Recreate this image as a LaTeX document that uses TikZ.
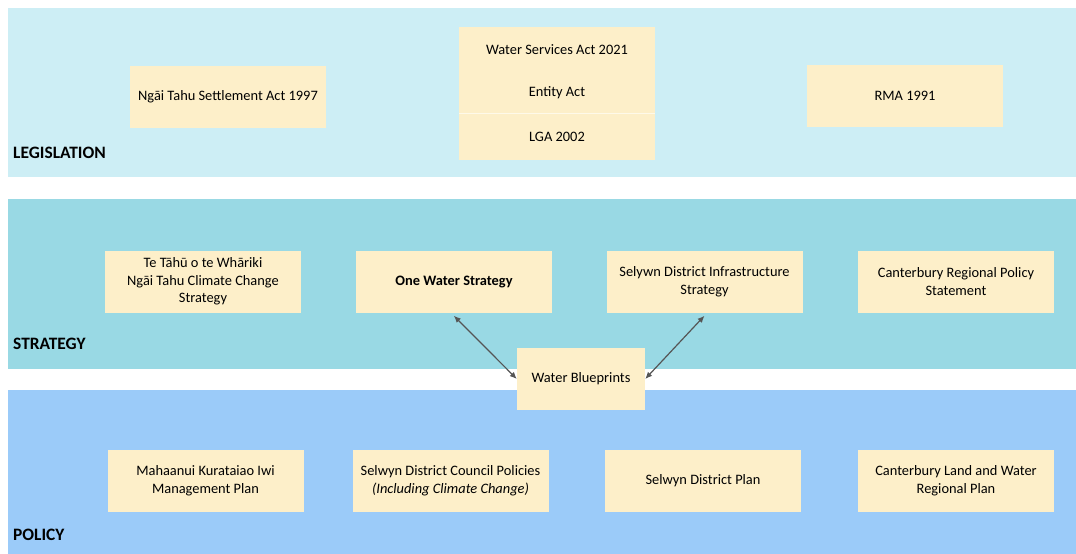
\documentclass[tikz,border=0pt]{standalone}
\usepackage{fontspec}
\setmainfont{Carlito}
\usetikzlibrary{arrows.meta, positioning}
\definecolor{legisband}{HTML}{CDEEF5}
\definecolor{stratband}{HTML}{99D9E4}
\definecolor{policyband}{HTML}{9BCBF9}
\definecolor{boxfill}{HTML}{FDEFC9}
\definecolor{arrowgrey}{HTML}{555555}
\tikzset{
    itemfont/.style = {font=\fontsize{14.4}{17.6}\selectfont},
    item/.style = {
        rectangle, fill=boxfill,
        minimum width=196pt,
        minimum height=62pt,
        align=center, itemfont
    },
    bandlabel/.style = {
        anchor=west, inner sep=0pt,
        font=\fontsize{17.4}{19}\selectfont\bfseries
    },
    link/.style = {
        {Latex[length=7pt,width=6pt]}-{Latex[length=7pt,width=6pt]},
        arrowgrey, line width=1.2pt
    }
}
\begin{document}
\begin{tikzpicture}[x=1pt, y=-1pt]
\useasboundingbox (0,0) rectangle (1076,554);

% bands
\fill[legisband] (8,8) rectangle (1076,177);
\fill[stratband] (8,199) rectangle (1076,369);
\fill[policyband] (8,390) rectangle (1076,554);

\node (leglabel) [bandlabel] at (13,153) {LEGISLATION};
\node (stratlabel) [bandlabel] at (13,344) {STRATEGY};
\node (pollabel) [bandlabel] at (13,535) {POLICY};

% legislation
\node (settlement) [item] at (228,97) {Ngāi Tahu Settlement Act 1997};
\node (acts) [item, minimum height=133pt] at (557,93.5) {};
\node (wsa) [itemfont] at (557,50) {Water Services Act 2021};
\node (entity) [itemfont] at (557,93) {Entity Act};
\node (lga) [itemfont] at (557,137) {LGA 2002};
\draw[white!60!boxfill, line width=0.6pt] (acts.west |- 0,113) -- (acts.east |- 0,113);
\node (rma) [item] at (905,96) {RMA 1991};

% strategy
\node (tahu) [item] at (203,281.5) {Te Tāhū o te Whāriki\\Ngāi Tahu Climate Change\\Strategy};
\node (onewater) [item, font=\fontsize{14.4}{17.6}\selectfont\bfseries] at (454,281.5) {One Water Strategy};
\node (infra) [item] at (704.5,281.5) {Selywn District Infrastructure\\Strategy};
\node (crps) [item] at (956,281.5) {Canterbury Regional Policy\\Statement};

\node (blueprints) [item, minimum width=128pt] at (581,379) {Water Blueprints};

% policy
\node (mahaanui) [item] at (205.5,481) {Mahaanui Kurataiao Iwi\\Management Plan};
\node (council) [item] at (450.5,481) {Selwyn District Council Policies\\\textit{(Including Climate Change)}};
\node (distplan) [item] at (703,481) {Selwyn District Plan};
\node (landwater) [item] at (956,481) {Canterbury Land and Water\\Regional Plan};

% links
\draw [link] (onewater.south west) ++(98,3) coordinate (owfoot) -- (blueprints.west);
\draw [link] (infra.south) ++(0,3) coordinate (infoot) -- (blueprints.east);

\end{tikzpicture}
\end{document}
